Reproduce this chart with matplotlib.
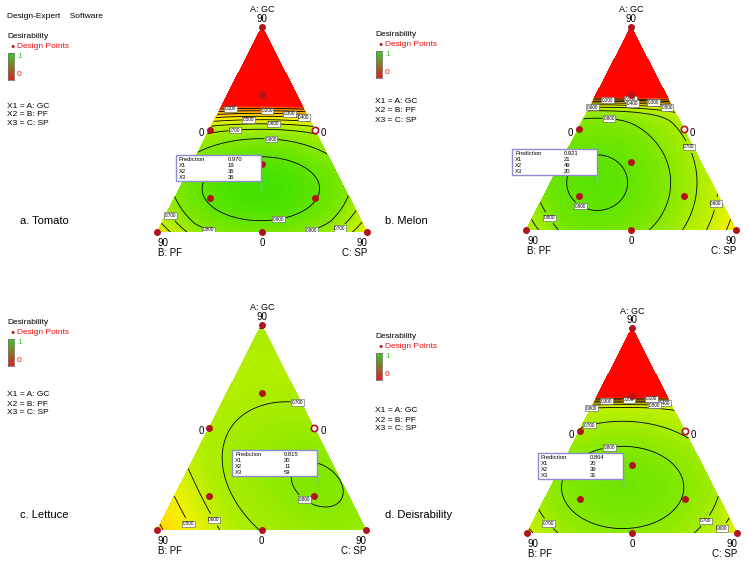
import numpy as np
import matplotlib.pyplot as plt
import matplotlib.tri as mtri
from matplotlib.colors import LinearSegmentedColormap
from matplotlib.patches import Rectangle

plt.rcParams['font.family'] = ['Liberation Sans', 'DejaVu Sans']

W, H = 750, 583

# ---- data ----
panel_names = ["a. Tomato", "b. Melon", "c. Lettuce", "d. Deisrability"]
prediction = [0.970, 0.921, 0.815, 0.864]
x1_gc = [19, 21, 20, 20]
x2_pf = [36, 49, 11, 39]
x3_sp = [35, 20, 59, 31]
contour_levels = [0.1, 0.2, 0.3, 0.4, 0.5, 0.6, 0.7, 0.8, 0.9]

# approximate shape of each fitted desirability surface
curvature = [(0.9, 0.0, 2.9), (1.0, 0.0, 1.12), (1.15, 0.42, 1.47), (0.76, 0.0, 1.6)]
saturation = [10, 10, 0.25, 10]
gc_cap = [(0.45, 40, 2.4), (0.5, 1383, 4), (0.6, -0.5, 2), (0.6, 155, 2)]
corner_drop = [(0.8, 0.6, 0.6), (0.8, 0.6, 0.0), (0.6, 0.6, 0.0), (0.8, 0.3, 0.3)]

# design points (A, B, C fractions); the A-C midpoint is drawn open
design_pts = [(1, 0, 0), (0, 1, 0), (0, 0, 1), (0.5, 0.5, 0), (0, 0.5, 0.5),
              (1/3, 1/3, 1/3), (2/3, 1/6, 1/6), (1/6, 2/3, 1/6), (1/6, 1/6, 2/3)]
open_pts = [(0.5, 0, 0.5)]

# ---- layout (pixels) ----
apex = [(262, 27), (631, 27), (262, 325), (632, 328)]
base = [(157, 367, 232), (526, 736, 230), (157, 366, 530), (527, 737, 533)]
legend_x = [7, 375, 7, 375]
legend_y = [37, 35, 323, 337]
xvars_y = [106, 102, 395, 411]
label_pos = [(20, 221), (385, 221), (20, 515), (385, 515)]

cmap = LinearSegmentedColormap.from_list("desir", [
    (0.0, (1.0, 0.0, 0.0)), (0.1, (1.0, 0.45, 0.0)), (0.25, (1.0, 0.68, 0.0)),
    (0.4, (1.0, 0.85, 0.0)), (0.5, (0.95, 0.95, 0.0)), (0.62, (0.76, 0.94, 0.0)),
    (0.75, (0.6, 0.92, 0.0)), (0.88, (0.42, 0.9, 0.0)), (1.0, (0.22, 0.88, 0.0))])

DARKRED = '#b0141c'


def px(x, y):
    return x / W, 1 - y / H


def txt(fig, x, y, s, **kw):
    kw.setdefault('fontsize', 6)
    kw.setdefault('va', 'center')
    fig.text(*px(x, y), s, **kw)


def desirability(k, a, b, c):
    u, v = c + a / 2, a
    v0 = x1_gc[k] / 90
    u0 = x3_sp[k] / 90 + v0 / 2
    du, dv = u - u0, v - v0
    kuu, kuv, kvv = curvature[k]
    q = kuu * du**2 + 2 * kuv * du * dv + kvv * dv**2
    q = q / (1 + q / saturation[k])
    ac, kc, p = gc_cap[k]
    cap = kc * np.clip(a - ac, 0, None)**p
    thr, kb, kcc = corner_drop[k]
    corner = kb * np.clip(b - thr, 0, None) + kcc * np.clip(c - thr, 0, None)
    return np.clip(prediction[k] - q - cap - corner, 0, 1)


# simplex lattice
n = 100
A, C = [], []
for i in range(n + 1):
    for j in range(n + 1 - i):
        A.append(i / n)
        C.append(j / n)
A, C = np.array(A), np.array(C)
B = 1 - A - C
U, V = C + A / 2, A
tri = mtri.Triangulation(U, V)

fig = plt.figure(figsize=(W / 100, H / 100), dpi=100)

txt(fig, 7, 17, "Design-Expert    Software")

for k in range(4):
    (axp, ayp), (bx0, bx1, by) = apex[k], base[k]
    sx, sy = bx1 - bx0, by - ayp
    ax = fig.add_axes([bx0 / W, 1 - by / H, sx / W, sy / H])
    ax.set_xlim(0, 1)
    ax.set_ylim(0, 1)
    ax.axis('off')

    D = desirability(k, A, B, C)
    ax.tricontourf(tri, D, levels=np.linspace(0, 1.0001, 101), cmap=cmap, vmin=0, vmax=1)
    lv = [l for l in contour_levels if l < D.max()]
    cs = ax.tricontour(tri, D, levels=lv, colors='black', linewidths=0.6)
    for t in ax.clabel(cs, fmt='%.3f', fontsize=3.3, inline=True, inline_spacing=1):
        t.set_rotation(0)
        t.set_bbox(dict(boxstyle='square,pad=0.15', fc='white', ec='0.35', lw=0.4))

    for a, b, c in design_pts:
        ax.plot(c + a / 2, a, 'o', ms=4, mfc=DARKRED, mec=DARKRED, clip_on=False, zorder=6)
    for a, b, c in open_pts:
        ax.plot(c + a / 2, a, 'o', ms=4.5, mfc='white', mec=DARKRED, mew=1.2, clip_on=False, zorder=6)

    # prediction flag
    v0 = x1_gc[k] / 90
    u0 = x3_sp[k] / 90 + v0 / 2
    gap, bw, bh = 8 / sy, 85 / sx, 26 / sy
    ax.plot([u0, u0], [v0, v0 + gap], color='#7fb2d6', lw=1, zorder=7, clip_on=False)
    ax.add_patch(Rectangle((u0 - bw, v0 + gap), bw, bh, fc='white', ec='#8c8cd0',
                           lw=1, zorder=8, clip_on=False))
    rows = [("Prediction", f"{prediction[k]:.3f}"), ("X1", str(x1_gc[k])),
            ("X2", str(x2_pf[k])), ("X3", str(x3_sp[k]))]
    for r, (name, val) in enumerate(rows):
        yy = v0 + gap + bh - (4.5 + r * 6) / sy
        ax.text(u0 - bw + 3 / sx, yy, name, fontsize=4.2, va='center', zorder=9)
        ax.text(u0 - bw + 52 / sx, yy, val, fontsize=4.2, va='center', zorder=9)

    # vertex / axis labels
    mid_y = (ayp + by) / 2
    txt(fig, axp, ayp - 17, "A: GC", ha='center', fontsize=6.5)
    txt(fig, axp, ayp - 8, "90", ha='center', fontsize=7)
    txt(fig, (axp + bx0) / 2 - 8, mid_y + 4, "0", ha='center', fontsize=7)
    txt(fig, (axp + bx1) / 2 + 9, mid_y + 4, "0", ha='center', fontsize=7)
    txt(fig, bx0 + 1, by + 11, "90", fontsize=7)
    txt(fig, bx0 + 1, by + 21, "B: PF", fontsize=7)
    txt(fig, (bx0 + bx1) / 2, by + 11, "0", ha='center', fontsize=7)
    txt(fig, bx1, by + 11, "90", ha='right', fontsize=7)
    txt(fig, bx1, by + 21, "C: SP", ha='right', fontsize=7)

    # legend block
    lx, ly = legend_x[k], legend_y[k]
    txt(fig, lx, ly, "Desirability")
    fig.text(*px(lx + 3, ly + 10), "\u25cf", color=DARKRED, fontsize=5, va='center')
    txt(fig, lx + 10, ly + 10, "Design Points", color='#ee1111')
    cax = fig.add_axes([(lx + 1) / W, 1 - (ly + 43) / H, 6 / W, 27 / H])
    grad = np.linspace(0, 1, 50)[:, None, None]
    top, bot = np.array([0.15, 0.85, 0.1]), np.array([0.95, 0.1, 0.1])
    cax.imshow(top * (1 - grad) + bot * grad, aspect='auto')
    cax.set_xticks([])
    cax.set_yticks([])
    for s in cax.spines.values():
        s.set_color('0.45')
        s.set_linewidth(0.6)
    txt(fig, lx + 10, ly + 20, "1", color='#33cc33')
    txt(fig, lx + 10, ly + 38, "0", color='#ee1111')
    xy = xvars_y[k]
    txt(fig, lx, xy, "X1 = A: GC")
    txt(fig, lx, xy + 9, "X2 = B: PF")
    txt(fig, lx, xy + 18, "X3 = C: SP")

    txt(fig, *label_pos[k], panel_names[k], fontsize=8)

fig.savefig("out.png", dpi=100)
